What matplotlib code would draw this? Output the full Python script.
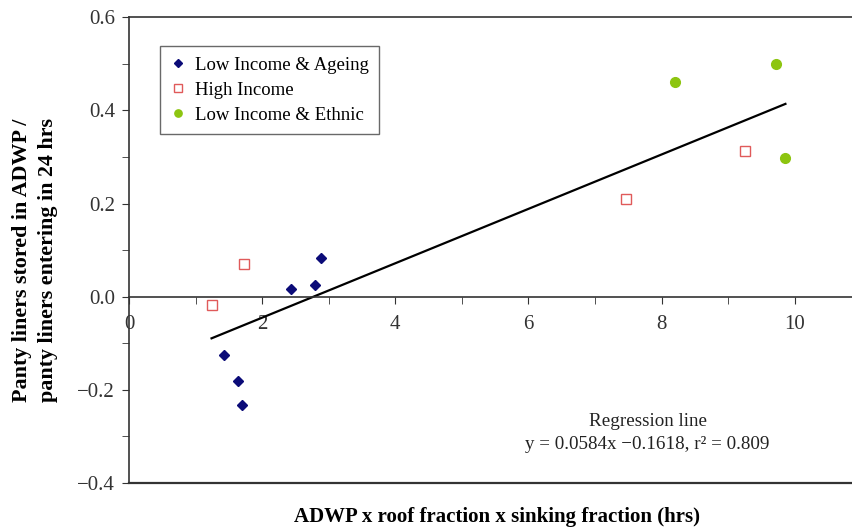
import numpy as np
import matplotlib
matplotlib.use('Agg')
import matplotlib.pyplot as plt
from matplotlib.ticker import MultipleLocator

plt.rcParams['font.family'] = ['Liberation Serif', 'DejaVu Serif']

# Low Income & Ageing
ageing_x = [1.43, 1.63, 1.70, 2.44, 2.79, 2.89]
ageing_y = [-0.125, -0.182, -0.233, 0.017, 0.026, 0.083]
# High Income
high_x = [1.24, 1.73, 7.47, 9.25]
high_y = [-0.018, 0.070, 0.210, 0.313]
# Low Income & Ethnic
ethnic_x = [8.20, 9.72, 9.85]
ethnic_y = [0.462, 0.499, 0.297]

slope, intercept = 0.0584, -0.1618
fit_range = [1.24, 9.86]

fig = plt.figure(figsize=(8.52, 5.30), dpi=100)
ax = fig.add_axes([0.1514, 0.0887, 0.8486, 0.8787])

ax.plot(ageing_x, ageing_y, 'D', color='#0b0b78', ms=5, label='Low Income & Ageing', zorder=3)
ax.plot(high_x, high_y, 's', mfc='white', mec='#e05a5a', mew=1.0, ms=7, label='High Income', zorder=3)
ax.plot(ethnic_x, ethnic_y, 'o', color='#8dc510', ms=7, label='Low Income & Ethnic', zorder=3)

fx = np.array(fit_range)
ax.plot(fx, slope * fx + intercept, color='black', lw=1.6, zorder=2)

ax.set_xlim(0, 10.86)
ax.set_ylim(-0.4, 0.6)

ax.spines['right'].set_visible(False)
ax.spines['bottom'].set_position(('data', 0))
for s in ['top', 'left', 'bottom']:
    ax.spines[s].set_color('#333333')
    ax.spines[s].set_linewidth(1.2)
ax.axhline(-0.4, color='#333333', lw=1.6, clip_on=False)

ax.xaxis.set_minor_locator(MultipleLocator(1))
ax.yaxis.set_minor_locator(MultipleLocator(0.1))
ax.set_xticks(np.arange(0, 11, 2))
ax.set_xticklabels([str(v) for v in range(0, 11, 2)])
ax.set_yticks(np.arange(-0.4, 0.61, 0.2))
ax.set_yticklabels(['\u22120.4', '\u22120.2', '0.0', '0.2', '0.4', '0.6'])
ax.tick_params(axis='x', which='both', direction='out', length=5, pad=8,
               labelsize=15, colors='#333333')
ax.tick_params(axis='y', which='both', direction='out', length=5, pad=5,
               labelsize=15, colors='#333333')

leg = ax.legend(loc='upper left', bbox_to_anchor=(0.043, 0.938), fontsize=13.5,
                frameon=True, fancybox=False, handlelength=0.8, handletextpad=0.5,
                borderpad=0.55, labelspacing=0.42, markerscale=0.75, borderaxespad=0)
leg.get_frame().set_edgecolor('#444444')
leg.get_frame().set_linewidth(1.0)

ax.text(7.79, -0.293, 'Regression line\ny = 0.0584x \u22120.1618, r\u00b2 = 0.809',
        ha='center', va='center', fontsize=13.7, linespacing=1.45, color='#222222')

fig.text(0.583, 0.025, 'ADWP x roof fraction x sinking fraction (hrs)',
         ha='center', va='center', fontsize=15, fontweight='bold')
fig.text(0.041, 0.509, 'Panty liners stored in ADWP /\npanty liners entering in 24 hrs',
         ha='center', va='center', rotation=90, fontsize=15.8, fontweight='bold',
         linespacing=1.4)

fig.savefig('out.png', dpi=100)
